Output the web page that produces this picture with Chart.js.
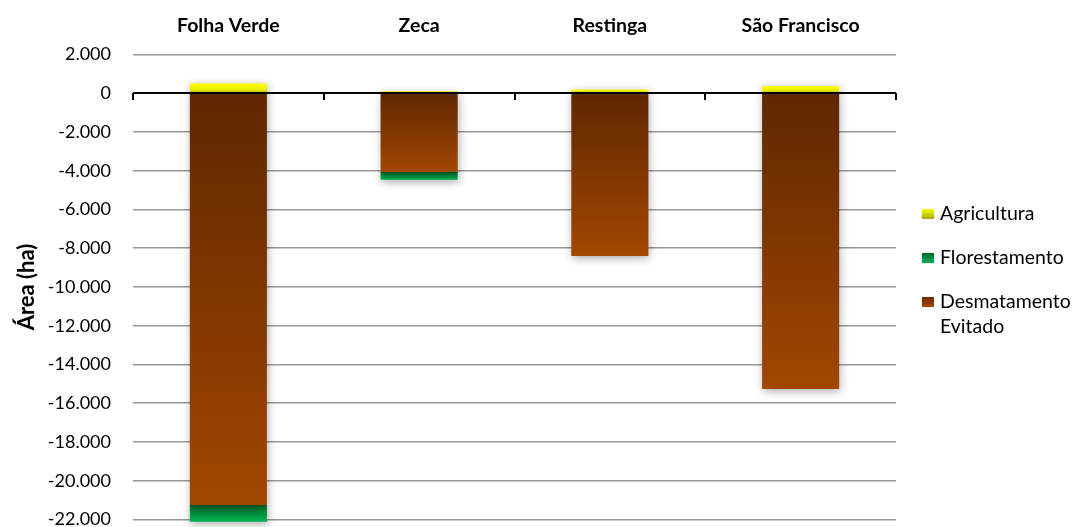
<!DOCTYPE html>
<html>
<head>
<meta charset="utf-8">
<script src="https://cdn.jsdelivr.net/npm/chart.js@4"></script>
<style>
  html, body { margin: 0; padding: 0; background: #fff; }
  #wrap { position: relative; width: 1075px; height: 527px; }
  canvas { display: block; }
  #legend { position: absolute; left: 922px; top: 200px; font-family: Lato, "Liberation Sans", sans-serif; font-size: 19.5px; color: #000; }
  .item { position: relative; padding-left: 18px; line-height: 25px; margin-bottom: 19px; }
  .sw { position: absolute; left: 0; top: 9px; width: 12px; height: 10px; }
</style>
</head>
<body>
<div id="wrap">
  <canvas id="c" width="1075" height="527"></canvas>
  <div id="legend"></div>
</div>
<script>
// ---- data ----
const categories = ['Folha Verde', 'Zeca', 'Restinga', 'São Francisco'];
const agricultura = [500, 100, 200, 370];
const florestamento = [-860, -400, 0, 0];
const desmatamentoEvitado = [-21250, -4060, -8400, -15260];
const seriesNames = ['Agricultura', 'Florestamento', 'Desmatamento Evitado'];
const legendLines = [['Agricultura'], ['Florestamento'], ['Desmatamento', 'Evitado']];
const yMin = -22000, yMax = 2000, yStep = 2000;
const yTitle = 'Área (ha)';

// ---- styles ----
const FONT = 'Lato, "Liberation Sans", sans-serif';
const gradStops = {
  agri: [['#ffff00', 0], ['#f2f200', 0.6], ['#c8c800', 1]],
  flor: [['#00682a', 0], ['#00b352', 1]],
  desm: [['#5f2700', 0], ['#a14700', 1]]
};

function fmt(v) {
  const s = String(Math.abs(v)).replace(/\B(?=(\d{3})+(?!\d))/g, '.');
  return (v < 0 ? '-' : '') + s;
}

function makeBg(kind, fallback) {
  return function (c) {
    const chart = c.chart;
    const y = chart.scales && chart.scales.y;
    if (!y || c.type !== 'data') return fallback;
    const i = c.dataIndex;
    let vTop, vBot;
    if (kind === 'agri') { vTop = agricultura[i]; vBot = 0; }
    else if (kind === 'desm') { vTop = 0; vBot = desmatamentoEvitado[i]; }
    else { vTop = desmatamentoEvitado[i]; vBot = desmatamentoEvitado[i] + florestamento[i]; }
    const p1 = y.getPixelForValue(vTop), p2 = y.getPixelForValue(vBot);
    if (!isFinite(p1) || !isFinite(p2) || Math.abs(p2 - p1) < 0.5) return fallback;
    const g = chart.ctx.createLinearGradient(0, p1, 0, p2);
    gradStops[kind].forEach(s => g.addColorStop(s[1], s[0]));
    return g;
  };
}

const fx = {
  id: 'fx',
  beforeDatasetsDraw(chart) {
    const ctx = chart.ctx;
    ctx.save();
    ctx.shadowColor = 'rgba(0,0,0,0.35)';
    ctx.shadowBlur = 9;
    ctx.shadowOffsetX = 1;
    ctx.shadowOffsetY = 2;
  },
  afterDatasetsDraw(chart) {
    const ctx = chart.ctx;
    ctx.restore();
    const y = chart.scales.y, x = chart.scales.x;
    const y0 = Math.round(y.getPixelForValue(0));
    ctx.save();
    ctx.strokeStyle = '#000';
    ctx.lineWidth = 2;
    ctx.beginPath();
    ctx.moveTo(x.left, y0);
    ctx.lineTo(x.right, y0);
    const n = categories.length;
    for (let k = 0; k <= n; k++) {
      const px = Math.round(x.left + (x.right - x.left) * k / n);
      ctx.moveTo(px, y0);
      ctx.lineTo(px, y0 + 7);
    }
    ctx.stroke();
    ctx.restore();
  }
};

const chart = new Chart(document.getElementById('c'), {
  type: 'bar',
  data: {
    labels: categories,
    datasets: [
      { label: seriesNames[2], data: desmatamentoEvitado, backgroundColor: makeBg('desm', '#8a3c00') },
      { label: seriesNames[1], data: florestamento, backgroundColor: makeBg('flor', '#00a04a') },
      { label: seriesNames[0], data: agricultura, backgroundColor: makeBg('agri', '#ffff00') }
    ]
  },
  options: {
    responsive: false,
    animation: false,
    layout: { padding: { left: 0, right: 179, top: 0, bottom: 7.5 } },
    datasets: { bar: { barPercentage: 0.404, categoryPercentage: 1, clip: false, borderWidth: 0 } },
    plugins: { legend: { display: false }, tooltip: { enabled: false } },
    scales: {
      x: {
        position: 'top',
        stacked: true,
        grid: { display: false },
        border: { display: false },
        ticks: { color: '#000', font: { family: FONT, size: 19.5, weight: 'bold' }, padding: 9, maxRotation: 0 },
        afterFit(s) { s.height = 54.5; s.paddingLeft = 0; s.paddingRight = 0; }
      },
      y: {
        stacked: true,
        min: yMin, max: yMax,
        grid: { color: '#979797', lineWidth: 1.6, drawTicks: false },
        border: { display: false },
        ticks: { stepSize: yStep, color: '#000', font: { family: FONT, size: 18 }, padding: 22, callback: v => fmt(v) },
        title: { display: true, text: yTitle, color: '#000', font: { family: FONT, size: 22, weight: 'bold' }, padding: { top: 14, bottom: 0 } },
        afterFit(s) { s.width = 133; s.paddingTop = 0; s.paddingBottom = 0; }
      }
    }
  },
  plugins: [fx]
});

// ---- HTML legend built from the datasets ----
const legendEl = document.getElementById('legend');
const swatch = {
  'Agricultura': 'linear-gradient(#ffff00, #a8a800)',
  'Florestamento': 'linear-gradient(#00682a, #00b352)',
  'Desmatamento Evitado': 'linear-gradient(#6a2c00, #a54800)'
};
seriesNames.forEach((name, k) => {
  const d = document.createElement('div');
  d.className = 'item';
  const s = document.createElement('span');
  s.className = 'sw';
  s.style.background = swatch[name];
  d.appendChild(s);
  legendLines[k].forEach((ln, j) => {
    if (j) d.appendChild(document.createElement('br'));
    d.appendChild(document.createTextNode(ln));
  });
  legendEl.appendChild(d);
});
</script>
</body>
</html>
